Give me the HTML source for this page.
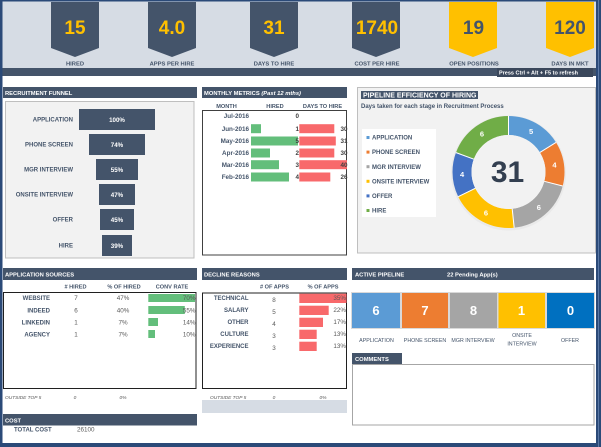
<!DOCTYPE html>
<html><head><meta charset="utf-8"><style>
html,body{margin:0;padding:0;width:601px;height:447px;overflow:hidden;background:#fff}
svg{display:block}
text{font-family:"Liberation Sans",Arial,sans-serif}
.b{font-weight:bold}
.lab{font-weight:bold;fill:#44546a;font-size:6px}
.hd{font-weight:bold;fill:#fff;font-size:5.8px}
.val{fill:#595959;font-size:6.3px}
</style></head><body>
<svg width="601" height="447" viewBox="0 0 601 447" xmlns="http://www.w3.org/2000/svg">
<defs>
<clipPath id="mclip"><rect x="202" y="110" width="146" height="145"/></clipPath>
</defs>
<!-- frame -->
<rect x="0" y="0" width="601" height="447" fill="#2b4a78"/>
<rect x="2.5" y="1.5" width="593.5" height="441.5" fill="#ffffff"/>
<rect x="598" y="0" width="1" height="447" fill="#5a78a6"/>
<!-- top band -->
<rect x="2.5" y="1.5" width="593.5" height="66.5" fill="#d6dce4"/>
<rect x="2.5" y="68" width="593.5" height="8" fill="#44546a"/>
<rect x="497" y="68" width="96" height="9" fill="#3a475b"/>
<text x="499" y="74.6" class="b" font-size="5" fill="#fff" textLength="79" lengthAdjust="spacingAndGlyphs">Press Ctrl + Alt + F5 to refresh</text>

<!-- banners -->
<polygon points="51,2 99,2 99,48 75,57 51,48" fill="#44546a"/>
<polygon points="148,2 196,2 196,48 172,57 148,48" fill="#44546a"/>
<polygon points="250,2 298,2 298,48 274,57 250,48" fill="#44546a"/>
<polygon points="352,2 400,2 400,48 376,57 352,48" fill="#44546a"/>
<polygon points="449,2 497,2 497,48 473,57 449,48" fill="#ffc000"/>
<polygon points="546,2 594,2 594,48 570,57 546,48" fill="#ffc000"/>
<g class="b" font-size="19" text-anchor="middle">
<text x="75" y="34" fill="#ffc000">15</text>
<text x="172" y="34" fill="#ffc000">4.0</text>
<text x="274" y="34" fill="#ffc000">31</text>
<text x="377" y="34" fill="#ffc000">1740</text>
<text x="473.5" y="34" fill="#44546a">19</text>
<text x="570" y="34" fill="#44546a">120</text>
</g>
<g class="b" font-size="5.8" fill="#44546a" text-anchor="middle">
<text x="75" y="65.5">HIRED</text>
<text x="172" y="65.5">APPS PER HIRE</text>
<text x="274" y="65.5">DAYS TO HIRE</text>
<text x="377" y="65.5">COST PER HIRE</text>
<text x="474" y="65.5">OPEN POSITIONS</text>
<text x="570" y="65.5">DAYS IN MKT</text>
</g>

<!-- RECRUITMENT FUNNEL -->
<rect x="3" y="87" width="194" height="11" fill="#44546a"/>
<text x="5" y="95" class="hd">RECRUITMENT FUNNEL</text>
<rect x="5.5" y="101.5" width="188.5" height="156.5" fill="#f2f2f2" stroke="#bfbfbf" stroke-width="1"/>
<g fill="#44546a">
<rect x="79" y="109" width="76" height="21"/>
<rect x="89" y="134" width="56" height="21"/>
<rect x="96" y="159" width="42" height="21"/>
<rect x="99" y="184" width="36" height="21"/>
<rect x="100" y="209" width="34" height="21"/>
<rect x="102" y="235" width="30" height="21"/>
</g>
<g class="b" font-size="6.2" fill="#fff" text-anchor="middle">
<text x="117" y="121.8">100%</text>
<text x="117" y="146.8">74%</text>
<text x="117" y="171.8">55%</text>
<text x="117" y="196.8">47%</text>
<text x="117" y="221.8">45%</text>
<text x="117" y="247.8">39%</text>
</g>
<g class="lab" text-anchor="end">
<text x="73" y="121.6">APPLICATION</text>
<text x="73" y="146.6">PHONE SCREEN</text>
<text x="73" y="171.6">MGR INTERVIEW</text>
<text x="73" y="196.6">ONSITE INTERVIEW</text>
<text x="73" y="221.6">OFFER</text>
<text x="73" y="247.6">HIRE</text>
</g>

<!-- MONTHLY METRICS -->
<rect x="202" y="87" width="145" height="11" fill="#44546a"/>
<text x="204" y="95" class="hd" font-size="6">MONTHLY METRICS <tspan font-style="italic">(Past 12 mths)</tspan></text>
<g class="b" font-size="5.6" fill="#44546a" text-anchor="middle">
<text x="226.5" y="108">MONTH</text>
<text x="275" y="108">HIRED</text>
<text x="322.5" y="108">DAYS TO HIRE</text>
</g>
<rect x="202.5" y="110.5" width="144" height="144.5" fill="#fff" stroke="#404040" stroke-width="1"/>
<g fill="#63be7b">
<rect x="251" y="124.2" width="10" height="9"/>
<rect x="251" y="136.5" width="47" height="9"/>
<rect x="251" y="148.5" width="19" height="9"/>
<rect x="251" y="160.2" width="28" height="9"/>
<rect x="251" y="172.5" width="38" height="9"/>
</g>
<g fill="#f8696b" clip-path="url(#mclip)">
<rect x="299.3" y="124.2" width="35" height="9"/>
<rect x="299.3" y="136.5" width="36.5" height="9"/>
<rect x="299.3" y="148.5" width="35" height="9"/>
<rect x="299.3" y="160.2" width="47.7" height="9"/>
<rect x="299.3" y="172.5" width="31" height="9"/>
</g>
<g class="b" font-size="6.3" fill="#44546a" text-anchor="end">
<text x="249" y="118.2">Jul-2016</text>
<text x="249" y="130.9">Jun-2016</text>
<text x="249" y="143.2">May-2016</text>
<text x="249" y="155.2">Apr-2016</text>
<text x="249" y="166.9">Mar-2016</text>
<text x="249" y="179.2">Feb-2016</text>
</g>
<g class="b" font-size="6.3" fill="#404040" text-anchor="end">
<text x="299" y="118.2">0</text>
<text x="299" y="130.9">1</text>
<text x="299" y="143.2">5</text>
<text x="299" y="155.2">2</text>
<text x="299" y="166.9">3</text>
<text x="299" y="179.2">4</text>
</g>
<g class="b" font-size="6.3" fill="#404040" text-anchor="end" clip-path="url(#mclip)">
<text x="347.5" y="130.9">30</text>
<text x="347.5" y="143.2">31</text>
<text x="347.5" y="155.2">30</text>
<text x="347.5" y="166.9">40</text>
<text x="347.5" y="179.2">26</text>
</g>

<!-- PIPELINE EFFICIENCY -->
<rect x="357.5" y="87.5" width="238" height="165.5" fill="#f2f2f2" stroke="#bfbfbf" stroke-width="1"/>
<rect x="361" y="91" width="117" height="8" fill="#44546a"/>
<text x="363" y="97.6" class="b" font-size="7" fill="#fff">PIPELINE EFFICIENCY OF HIRING</text>
<text x="361" y="108" class="b" font-size="6" fill="#44546a">Days taken for each stage in Recruitment Process</text>
<rect x="362" y="129" width="74" height="88" fill="#ffffff"/>
<rect x="366.5" y="136" width="3" height="3" fill="#5b9bd5"/>
<rect x="366.5" y="150.6" width="3" height="3" fill="#ed7d31"/>
<rect x="366.5" y="165.2" width="3" height="3" fill="#a5a5a5"/>
<rect x="366.5" y="179.8" width="3" height="3" fill="#ffc000"/>
<rect x="366.5" y="194.4" width="3" height="3" fill="#4472c4"/>
<rect x="366.5" y="209" width="3" height="3" fill="#70ad47"/>
<g class="lab" font-size="6">
<text x="372" y="139.6">APPLICATION</text>
<text x="372" y="154.2">PHONE SCREEN</text>
<text x="372" y="168.8">MGR INTERVIEW</text>
<text x="372" y="183.4">ONSITE INTERVIEW</text>
<text x="372" y="198">OFFER</text>
<text x="372" y="212.6">HIRE</text>
</g>
<!-- donut -->
<circle cx="508.5" cy="173" r="47" fill="none" stroke="#e4e4e4" stroke-width="21" opacity="0.6"/>
<g transform="rotate(-90 508.5 172)" fill="none" stroke-width="19">
<circle cx="508.5" cy="172" r="46.5" stroke="#5b9bd5" stroke-dasharray="47.12 400" stroke-dashoffset="0"/>
<circle cx="508.5" cy="172" r="46.5" stroke="#ed7d31" stroke-dasharray="37.70 400" stroke-dashoffset="-47.12"/>
<circle cx="508.5" cy="172" r="46.5" stroke="#a5a5a5" stroke-dasharray="56.55 400" stroke-dashoffset="-84.82"/>
<circle cx="508.5" cy="172" r="46.5" stroke="#ffc000" stroke-dasharray="56.55 400" stroke-dashoffset="-141.37"/>
<circle cx="508.5" cy="172" r="46.5" stroke="#4472c4" stroke-dasharray="37.70 400" stroke-dashoffset="-197.92"/>
<circle cx="508.5" cy="172" r="46.5" stroke="#70ad47" stroke-dasharray="56.55 400" stroke-dashoffset="-235.62"/>
</g>
<g stroke="#fff" stroke-width="1">
<line x1="508.5" y1="135" x2="508.5" y2="116"/>
<line x1="539.9" y1="152.4" x2="556.0" y2="142.4"/>
<line x1="544.3" y1="181.3" x2="562.7" y2="186.0"/>
<line x1="512.2" y1="208.8" x2="514.2" y2="227.7"/>
<line x1="475.3" y1="188.3" x2="458.2" y2="196.7"/>
<line x1="473.8" y1="159.2" x2="456.0" y2="152.6"/>
</g>
<circle cx="508.5" cy="172" r="37" fill="#f2f2f2"/>
<g class="b" font-size="7.5" fill="#fff" text-anchor="middle">
<text x="531.1" y="134">5</text>
<text x="554.5" y="167.7">4</text>
<text x="538.8" y="210">6</text>
<text x="485.9" y="215.4">6</text>
<text x="462.1" y="177.1">4</text>
<text x="482" y="136.5">6</text>
</g>
<text x="507.5" y="182" class="b" font-size="30" fill="#333f50" text-anchor="middle">31</text>

<!-- APPLICATION SOURCES -->
<rect x="3" y="268" width="194" height="12" fill="#44546a"/>
<text x="5" y="276.5" class="hd">APPLICATION SOURCES</text>
<g class="b" font-size="5.6" fill="#44546a" text-anchor="middle">
<text x="75.5" y="288.5">#  HIRED</text>
<text x="124" y="288.5">% OF HIRED</text>
<text x="172" y="288.5">CONV RATE</text>
</g>
<rect x="3.5" y="292.5" width="192.5" height="96" fill="#fff" stroke="#202020" stroke-width="1"/>
<g fill="#63be7b">
<rect x="148.3" y="294" width="46.7" height="8"/>
<rect x="148.3" y="306" width="36.5" height="8"/>
<rect x="148.3" y="318" width="9.7" height="8"/>
<rect x="148.3" y="330" width="6.7" height="8"/>
</g>
<g class="lab" font-size="6" text-anchor="end">
<text x="50" y="300.2">WEBSITE</text>
<text x="50" y="312.4">INDEED</text>
<text x="50" y="324.4">LINKEDIN</text>
<text x="50" y="336.4">AGENCY</text>
</g>
<g class="val" text-anchor="middle">
<text x="76" y="300.2">7</text>
<text x="76" y="312.4">6</text>
<text x="76" y="324.4">1</text>
<text x="76" y="336.4">1</text>
<text x="123" y="300.2">47%</text>
<text x="123" y="312.4">40%</text>
<text x="123" y="324.4">7%</text>
<text x="123" y="336.4">7%</text>
</g>
<g class="val" text-anchor="end">
<text x="195.5" y="300.2">70%</text>
<text x="195.5" y="312.4">55%</text>
<text x="195.5" y="324.4">14%</text>
<text x="195.5" y="336.4">10%</text>
</g>
<g font-size="4.8" font-style="italic" fill="#595959">
<text x="5" y="399">OUTSIDE TOP 5</text>
<text x="75" y="399" text-anchor="middle">0</text>
<text x="123" y="399" text-anchor="middle">0%</text>
</g>
<rect x="3" y="414" width="194" height="11.5" fill="#44546a"/>
<text x="5" y="422.3" class="hd">COST</text>
<text x="14" y="431.5" class="lab" font-size="5.8">TOTAL COST</text>
<text x="77" y="431.5" class="val">26100</text>

<!-- DECLINE REASONS -->
<rect x="202" y="268" width="145" height="12" fill="#44546a"/>
<text x="204" y="276.5" class="hd">DECLINE REASONS</text>
<g class="b" font-size="5.6" fill="#44546a" text-anchor="middle">
<text x="274.5" y="288.5"># OF APPS</text>
<text x="323" y="288.5">% OF APPS</text>
</g>
<rect x="202.5" y="293" width="144" height="95.5" fill="#fff" stroke="#202020" stroke-width="1"/>
<g fill="#f8696b">
<rect x="299.3" y="293.7" width="47.2" height="9.3"/>
<rect x="299.3" y="305.7" width="29.4" height="9.3"/>
<rect x="299.3" y="317.7" width="23.7" height="9.3"/>
<rect x="299.3" y="329.7" width="17.4" height="9.3"/>
<rect x="299.3" y="341.7" width="17.4" height="9.3"/>
</g>
<g class="lab" font-size="6" text-anchor="end">
<text x="248.5" y="300.2">TECHNICAL</text>
<text x="248.5" y="312.2">SALARY</text>
<text x="248.5" y="324.2">OTHER</text>
<text x="248.5" y="336.2">CULTURE</text>
<text x="248.5" y="348.2">EXPERIENCE</text>
</g>
<g class="val" text-anchor="middle">
<text x="274" y="302.2">8</text>
<text x="274" y="314.2">5</text>
<text x="274" y="326.2">4</text>
<text x="274" y="338.2">3</text>
<text x="274" y="350.2">3</text>
</g>
<g class="val" text-anchor="end">
<text x="346" y="300.2">35%</text>
<text x="346" y="312.2">22%</text>
<text x="346" y="324.2">17%</text>
<text x="346" y="336.2">13%</text>
<text x="346" y="348.2">13%</text>
</g>
<g font-size="4.8" font-style="italic" fill="#595959">
<text x="210" y="399">OUTSIDE TOP 5</text>
<text x="274" y="399" text-anchor="middle">0</text>
<text x="323" y="399" text-anchor="middle">0%</text>
</g>
<rect x="202" y="400" width="145" height="13" fill="#d6dce4"/>

<!-- ACTIVE PIPELINE -->
<rect x="352" y="268" width="242" height="12" fill="#44546a"/>
<text x="355" y="276.5" class="hd">ACTIVE PIPELINE</text>
<text x="447" y="276.5" class="hd">22 Pending App(s)</text>
<rect x="351" y="292" width="244" height="37" fill="#d9d9d9"/>
<rect x="352" y="293" width="48" height="35" fill="#5b9bd5"/>
<rect x="402" y="293" width="46" height="35" fill="#ed7d31"/>
<rect x="450" y="293" width="47" height="35" fill="#a5a5a5"/>
<rect x="498.5" y="293" width="46.5" height="35" fill="#ffc000"/>
<rect x="547" y="293" width="47" height="35" fill="#0070c0"/>
<g class="b" font-size="13" fill="#fff" text-anchor="middle">
<text x="376" y="315">6</text>
<text x="425" y="315">7</text>
<text x="473.5" y="315">8</text>
<text x="521.5" y="315">1</text>
<text x="570.5" y="315">0</text>
</g>
<g font-size="5.3" fill="#44546a" text-anchor="middle">
<text x="376.5" y="342">APPLICATION</text>
<text x="425" y="342">PHONE SCREEN</text>
<text x="473" y="342">MGR INTERVIEW</text>
<text x="522" y="337.2">ONSITE</text>
<text x="522" y="345.3">INTERVIEW</text>
<text x="570" y="342">OFFER</text>
</g>
<rect x="352" y="353" width="50" height="11" fill="#44546a"/>
<text x="355" y="361.2" class="hd">COMMENTS</text>
<rect x="352.5" y="364.5" width="241.5" height="60.5" fill="#fff" stroke="#a6a6a6" stroke-width="1"/>
</svg>
</body></html>
